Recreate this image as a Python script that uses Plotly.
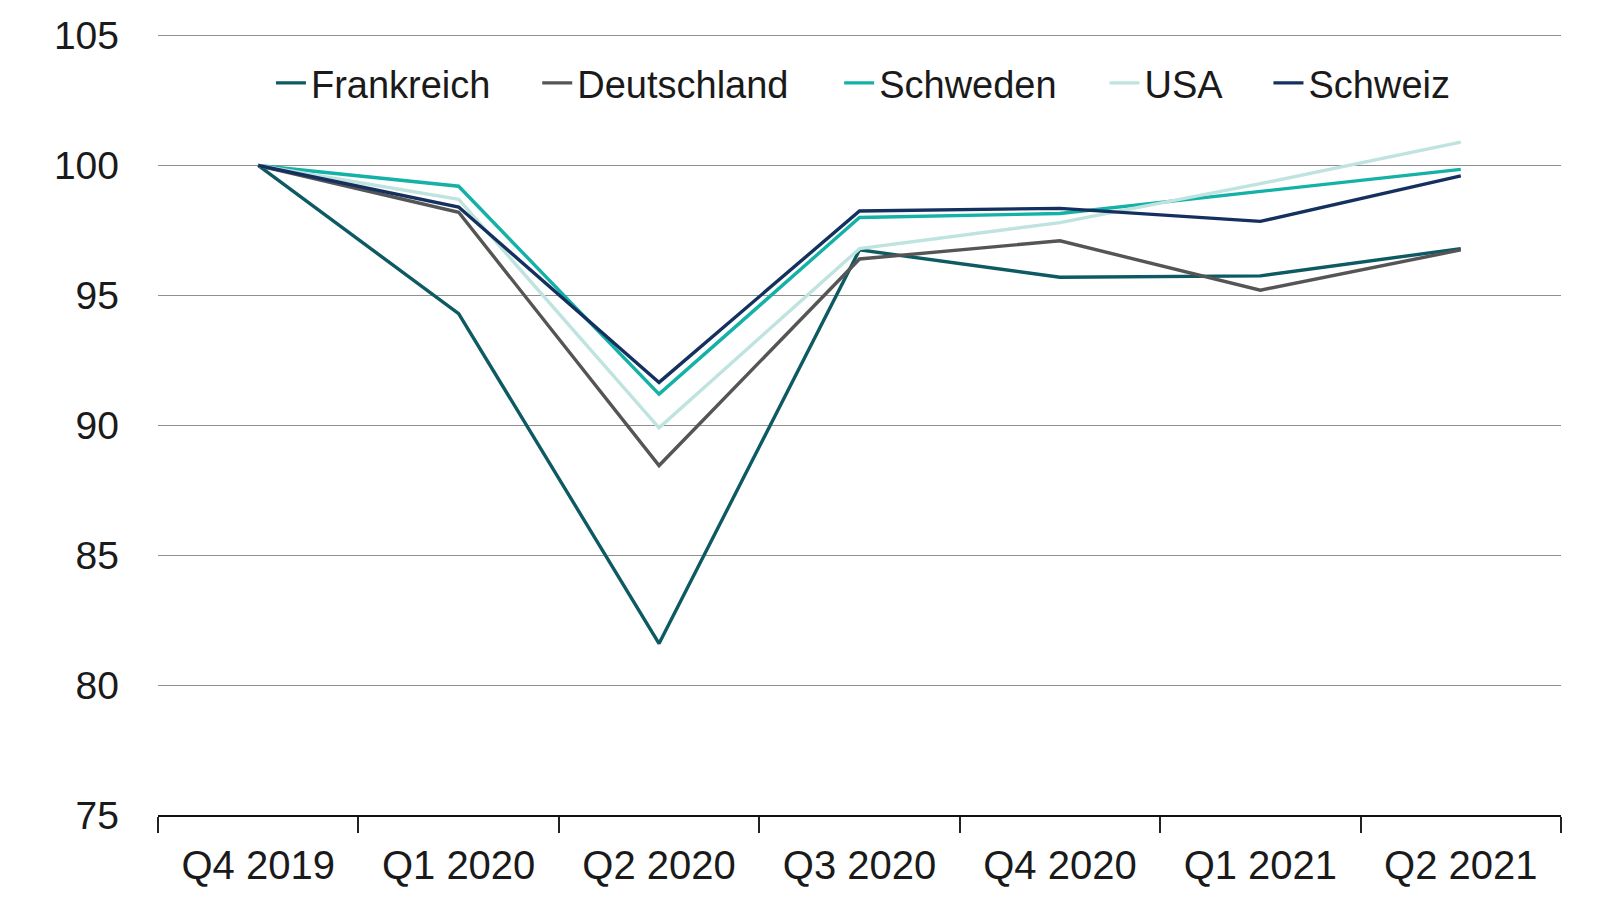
import plotly.graph_objects as go

quarters = ["Q4 2019", "Q1 2020", "Q2 2020", "Q3 2020", "Q4 2020", "Q1 2021", "Q2 2021"]
frankreich = [100, 94.3, 81.6, 96.75, 95.7, 95.75, 96.8]
deutschland = [100, 98.2, 88.45, 96.4, 97.1, 95.2, 96.75]
schweden = [100, 99.2, 91.2, 98.0, 98.15, 99.0, 99.85]
usa = [100, 98.7, 89.9, 96.8, 97.8, 99.3, 100.9]
schweiz = [100, 98.4, 91.65, 98.25, 98.35, 97.85, 99.6]

series = [
    ("Frankreich", frankreich, "#0d5a63"),
    ("Deutschland", deutschland, "#555555"),
    ("Schweden", schweden, "#14b1a6"),
    ("USA", usa, "#bfe3df"),
    ("Schweiz", schweiz, "#14305f"),
]
y_ticks = [75, 80, 85, 90, 95, 100, 105]

FONT = "Liberation Sans, Arial, sans-serif"
TXT = "#1a1a1a"

fig = go.Figure()
legend_x = [0.0805, 0.2703, 0.4855, 0.6746, 0.7915]
for i, (name, vals, col) in enumerate(series):
    lg = "legend" if i == 0 else f"legend{i+1}"
    fig.add_trace(go.Scatter(
        x=quarters, y=vals, name=name, mode="lines",
        line=dict(color=col, width=3.4), legend=lg,
    ))

layout_legends = {}
for i, lx in enumerate(legend_x):
    key = "legend" if i == 0 else f"legend{i+1}"
    layout_legends[key] = dict(
        x=lx, y=0.937, xanchor="left", yanchor="middle",
        orientation="h", bgcolor="rgba(0,0,0,0)", borderwidth=0,
        font=dict(family=FONT, size=38, color=TXT),
        itemwidth=30, tracegroupgap=0,
    )

fig.update_layout(
    width=1600, height=900,
    margin=dict(l=158, r=39, t=34, b=85),
    plot_bgcolor="white", paper_bgcolor="white",
    font=dict(family=FONT, size=38, color=TXT),
    showlegend=True,
    **layout_legends,
)
fig.update_xaxes(
    type="category", tickson="boundaries", ticks="outside", ticklen=16,
    tickwidth=1.5, tickcolor="#222", showline=True, linecolor="#111",
    linewidth=2, showgrid=False, tickfont=dict(size=40, family=FONT, color=TXT),
    range=[-0.5, 6.5], ticklabelstandoff=14,
)
fig.update_yaxes(
    range=[75, 105.06], tickvals=y_ticks, showgrid=True, gridcolor="#8f8f8f",
    gridwidth=1.3, zeroline=False, showline=False, ticks="",
    tickfont=dict(size=39, family=FONT, color=TXT), ticklabelstandoff=38,
)

fig.write_html("out.html", config={"displayModeBar": False},
               post_script="document.body.style.margin='0';")
